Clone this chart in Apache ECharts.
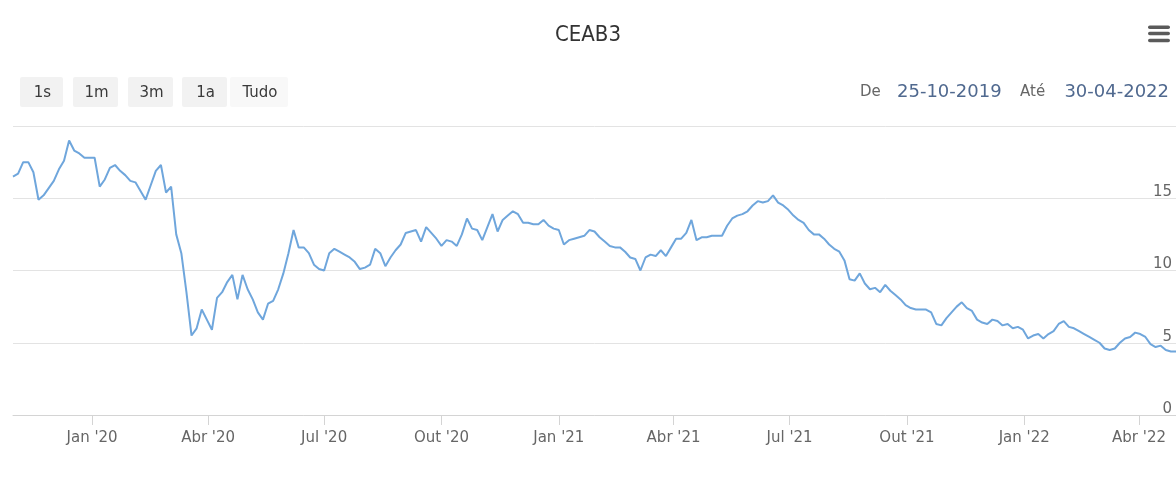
<!DOCTYPE html>
<html>
<head>
<meta charset="utf-8">
<script src="https://cdn.jsdelivr.net/npm/echarts@6/dist/echarts.min.js"></script>
<style>
html,body{margin:0;padding:0;background:#ffffff;}
#chart{width:1176px;height:479px;}
</style>
</head>
<body>
<div id="chart"></div>
<script>
// ---- data ----
const chartTitle = 'CEAB3';
const firstSample = [2019, 9, 31];      // year, month (0-based), day of first close
const sampleStepDays = 4;               // closes sampled every 4 calendar days
const axisStart = [2019, 9, 31];
const axisEnd = [2022, 3, 30];
const prices = [
  16.5, 16.7, 17.5, 17.5, 16.8, 14.9, 15.2, 15.7, 16.2, 17.0,
  17.6, 19.0, 18.3, 18.1, 17.8, 17.8, 17.8, 15.8, 16.3, 17.1,
  17.3, 16.9, 16.6, 16.2, 16.1, 15.5, 14.9, 15.9, 16.9, 17.3,
  15.4, 15.8, 12.5, 11.2, 8.5, 5.5, 6.0, 7.3, 6.6, 5.9,
  8.1, 8.5, 9.2, 9.7, 8.0, 9.7, 8.7, 8.0, 7.1, 6.6,
  7.7, 7.9, 8.7, 9.8, 11.2, 12.8, 11.6, 11.6, 11.2, 10.4,
  10.1, 10.0, 11.2, 11.5, 11.3, 11.1, 10.9, 10.6, 10.1, 10.2,
  10.4, 11.5, 11.2, 10.3, 10.9, 11.4, 11.8, 12.6, 12.7, 12.8,
  12.0, 13.0, 12.6, 12.2, 11.7, 12.1, 12.0, 11.7, 12.5, 13.6,
  12.9, 12.8, 12.1, 13.0, 13.9, 12.7, 13.5, 13.8, 14.1, 13.9,
  13.3, 13.3, 13.2, 13.2, 13.5, 13.1, 12.9, 12.8, 11.8, 12.1,
  12.2, 12.3, 12.4, 12.8, 12.7, 12.3, 12.0, 11.7, 11.6, 11.6,
  11.3, 10.9, 10.8, 10.0, 10.9, 11.1, 11.0, 11.4, 11.0, 11.6,
  12.2, 12.2, 12.6, 13.5, 12.1, 12.3, 12.3, 12.4, 12.4, 12.4,
  13.1, 13.6, 13.8, 13.9, 14.1, 14.5, 14.8, 14.7, 14.8, 15.2,
  14.7, 14.5, 14.2, 13.8, 13.5, 13.3, 12.8, 12.5, 12.5, 12.2,
  11.8, 11.5, 11.3, 10.7, 9.4, 9.3, 9.8, 9.1, 8.7, 8.8,
  8.5, 9.0, 8.6, 8.3, 8.0, 7.6, 7.4, 7.3, 7.3, 7.3,
  7.1, 6.3, 6.2, 6.7, 7.1, 7.5, 7.8, 7.4, 7.2, 6.6,
  6.4, 6.3, 6.6, 6.5, 6.2, 6.3, 6.0, 6.1, 5.9, 5.3,
  5.5, 5.6, 5.3, 5.6, 5.8, 6.3, 6.5, 6.1, 6.0, 5.8,
  5.6, 5.4, 5.2, 5.0, 4.6, 4.5, 4.6, 5.0, 5.3, 5.4,
  5.7, 5.6, 5.4, 4.9, 4.7, 4.8, 4.5, 4.4, 4.4
];
const tickDates = [
  [2020, 0, 1], [2020, 3, 1], [2020, 6, 1], [2020, 9, 1],
  [2021, 0, 1], [2021, 3, 1], [2021, 6, 1], [2021, 9, 1],
  [2022, 0, 1], [2022, 3, 1]
];
const monthNames = ['Jan','Fev','Mar','Abr','Mai','Jun','Jul','Ago','Set','Out','Nov','Dez'];
const yMin = 0, yMax = 20, yStep = 5;
const rangeButtons = ['1s', '1m', '3m', '1a', 'Tudo'];
const inputLabelFrom = 'De', inputLabelTo = 'Até';
const rangeFrom = '25-10-2019', rangeTo = '30-04-2022';

// ---- build ----
const toTime = (a) => new Date(a[0], a[1], a[2]).getTime();
const seriesData = prices.map((v, i) =>
  [new Date(firstSample[0], firstSample[1], firstSample[2] + i * sampleStepDays).getTime(), v]);
const tickTimes = tickDates.map(toTime);

const font = 'DejaVu Sans, Verdana, sans-serif';

// range selector buttons
const btnX = [20, 73, 128, 182, 230];
const btnW = [43, 45, 45, 45, 58];
const graphics = [];
rangeButtons.forEach((b, i) => {
  graphics.push({
    type: 'rect', left: btnX[i], top: 77,
    shape: { width: btnW[i], height: 30, r: 2 },
    style: { fill: i === 4 ? '#f8f8f8' : '#f2f2f2' }, silent: true
  });
  graphics.push({
    type: 'text', x: btnX[i] + btnW[i] / 2 + 1, y: 93,
    style: { text: b, fill: '#3a3a3a', font: '15px ' + font, align: 'center', verticalAlign: 'middle' },
    silent: true
  });
});
graphics.push({ type: 'text', x: 860, y: 92,
  style: { text: inputLabelFrom, fill: '#666', font: '15px ' + font, align: 'left', verticalAlign: 'middle' } });
graphics.push({ type: 'text', x: 897, y: 92,
  style: { text: rangeFrom, fill: '#50698f', font: '18px ' + font, align: 'left', verticalAlign: 'middle' } });
graphics.push({ type: 'text', x: 1020, y: 92,
  style: { text: inputLabelTo, fill: '#666', font: '15px ' + font, align: 'left', verticalAlign: 'middle' } });
graphics.push({ type: 'text', x: 1169, y: 92,
  style: { text: rangeTo, fill: '#50698f', font: '18px ' + font, align: 'right', verticalAlign: 'middle' } });
// menu (hamburger) icon
[25.5, 31.8, 38.8].forEach(y => {
  graphics.push({ type: 'rect', left: 1148, top: y,
    shape: { width: 22, height: 3.5, r: 1.75 }, style: { fill: '#5a5a5a' }, silent: true });
});

const chart = echarts.init(document.getElementById('chart'), null, { renderer: 'canvas' });
chart.setOption({
  animation: false,
  backgroundColor: '#ffffff',
  title: {
    text: chartTitle, left: 'center', top: 19,
    textStyle: { fontFamily: 'Liberation Sans Narrow, DejaVu Sans Condensed, sans-serif',
      fontSize: 22, fontWeight: 'normal', color: '#333' }
  },
  grid: { left: 13, right: 0, top: 126, bottom: 64, outerBoundsMode: 'none' },
  xAxis: {
    type: 'value',
    min: toTime(axisStart), max: toTime(axisEnd),
    axisLine: { lineStyle: { color: '#d4d4d4', width: 1 } },
    axisTick: { show: true, length: 10, lineStyle: { color: '#d4d4d4' }, customValues: tickTimes },
    splitLine: { show: false },
    axisLabel: {
      customValues: tickTimes,
      color: '#666', fontSize: 15, fontFamily: font, margin: 16,
      formatter: (v) => {
        const d = new Date(v);
        return monthNames[d.getMonth()] + " '" + String(d.getFullYear()).slice(2);
      }
    }
  },
  yAxis: {
    type: 'value', position: 'right', min: yMin, max: yMax, interval: yStep,
    axisLine: { show: false }, axisTick: { show: false },
    splitLine: { lineStyle: { color: '#e3e3e3', width: 1 } },
    axisLabel: {
      inside: true, showMaxLabel: false, verticalAlign: 'bottom', lineHeight: 12,
      margin: 4, color: '#666', fontSize: 15, fontFamily: font
    }
  },
  series: [{
    type: 'line', data: seriesData, showSymbol: false, smooth: false,
    lineStyle: { color: '#6fa6dc', width: 2 },
    itemStyle: { color: '#6fa6dc' }
  }],
  graphic: graphics
});
</script>
</body>
</html>
